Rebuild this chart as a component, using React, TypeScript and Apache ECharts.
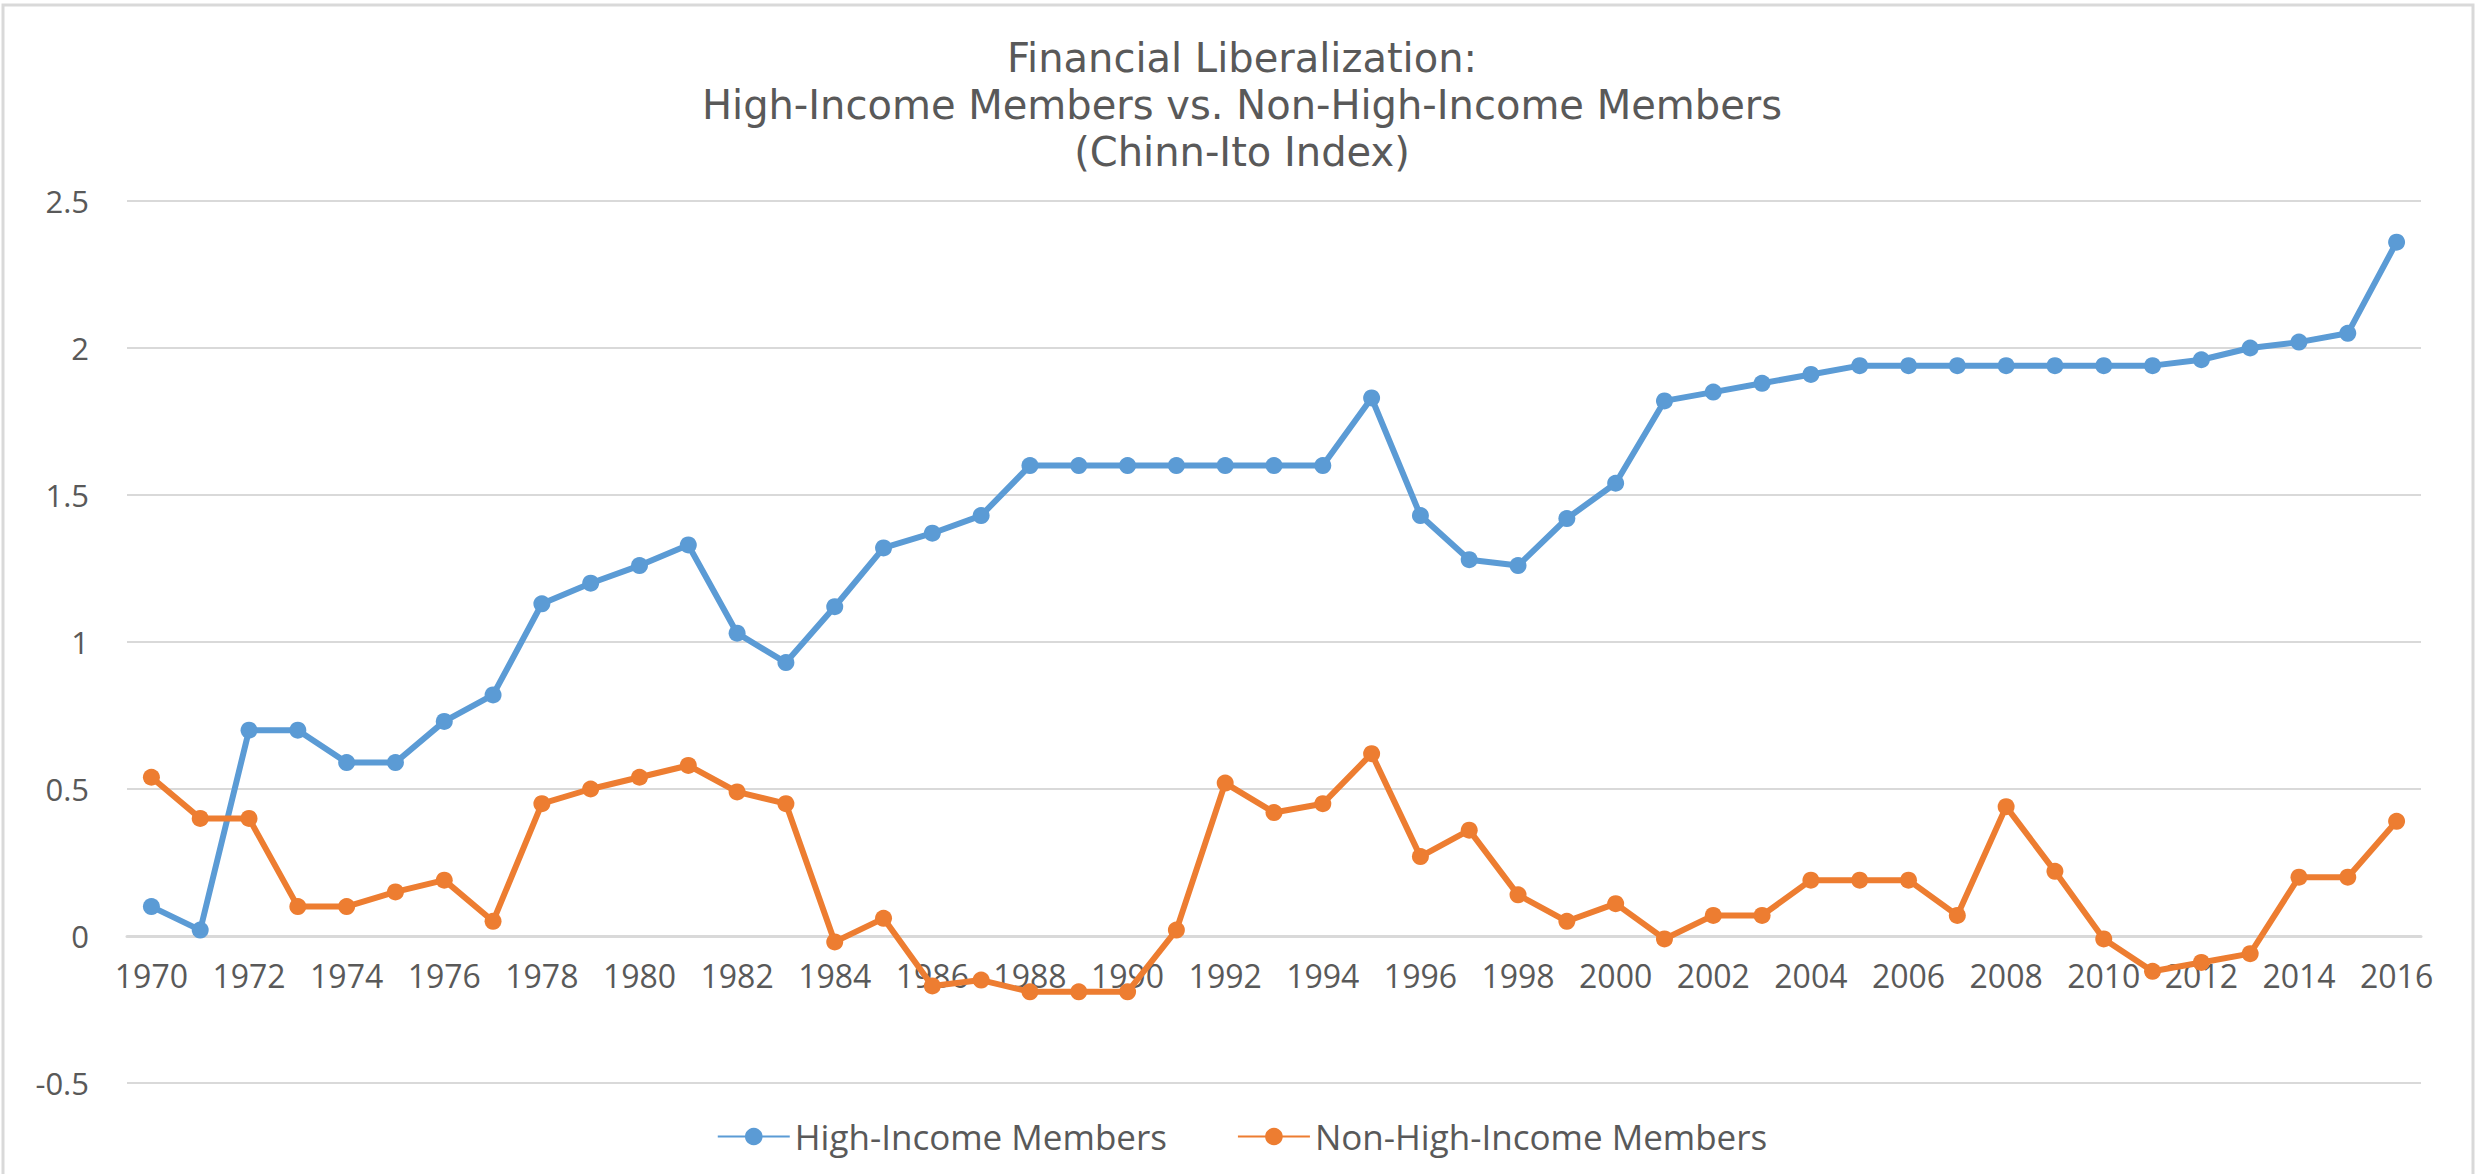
import React, { useEffect, useRef } from "react";
import * as echarts from "echarts";

const years = [
  "1970", "1971", "1972", "1973", "1974", "1975", "1976", "1977", "1978", "1979",
  "1980", "1981", "1982", "1983", "1984", "1985", "1986", "1987", "1988", "1989",
  "1990", "1991", "1992", "1993", "1994", "1995", "1996", "1997", "1998", "1999",
  "2000", "2001", "2002", "2003", "2004", "2005", "2006", "2007", "2008", "2009",
  "2010", "2011", "2012", "2013", "2014", "2015", "2016",
];

const highIncome = [
  0.10, 0.02, 0.70, 0.70, 0.59, 0.59, 0.73, 0.82, 1.13, 1.20,
  1.26, 1.33, 1.03, 0.93, 1.12, 1.32, 1.37, 1.43, 1.60, 1.60,
  1.60, 1.60, 1.60, 1.60, 1.60, 1.83, 1.43, 1.28, 1.26, 1.42,
  1.54, 1.82, 1.85, 1.88, 1.91, 1.94, 1.94, 1.94, 1.94, 1.94,
  1.94, 1.94, 1.96, 2.00, 2.02, 2.05, 2.36,
];

const nonHighIncome = [
  0.54, 0.40, 0.40, 0.10, 0.10, 0.15, 0.19, 0.05, 0.45, 0.50,
  0.54, 0.58, 0.49, 0.45, -0.02, 0.06, -0.17, -0.15, -0.19, -0.19,
  -0.19, 0.02, 0.52, 0.42, 0.45, 0.62, 0.27, 0.36, 0.14, 0.05,
  0.11, -0.01, 0.07, 0.07, 0.19, 0.19, 0.19, 0.07, 0.44, 0.22,
  -0.01, -0.12, -0.09, -0.06, 0.20, 0.20, 0.39,
];

const seriesNames = ["High-Income Members", "Non-High-Income Members"];
const yMin = -0.5;
const yMax = 2.5;
const yStep = 0.5;

const titleLines = [
  "Financial Liberalization:",
  "High-Income Members vs. Non-High-Income Members",
  "(Chinn-Ito Index)",
];

const FONT = "'Open Sans', 'Noto Sans', sans-serif";
const TITLE_FONT = "'DejaVu Sans', 'Open Sans', sans-serif";
const TEXT = "#595959";
const GRID = "#D9D9D9";
const BLUE = "#5B9BD5";
const ORANGE = "#ED7D31";

export default function App() {
  const ref = useRef<HTMLDivElement>(null);

  useEffect(() => {
    if (!ref.current) return;
    const chart = echarts.init(ref.current, null, { renderer: "svg" });
    chart.setOption({
      animation: false,
      backgroundColor: "#ffffff",
      graphic: [
        {
          type: "rect",
          shape: { x: 3, y: 5, width: 2470, height: 1200 },
          style: { fill: "none", stroke: GRID, lineWidth: 3 },
          silent: true,
          z: -1,
        },
      ],
      title: {
        text: titleLines.join("\n"),
        left: "center",
        top: 29,
        textStyle: {
          fontFamily: TITLE_FONT,
          fontSize: 40,
          fontWeight: "normal",
          color: TEXT,
          lineHeight: 47,
        },
      },
      legend: {
        data: seriesNames,
        left: "center",
        top: 1114,
        itemWidth: 72,
        itemHeight: 22,
        itemGap: 70,
        textStyle: { fontFamily: FONT, fontSize: 35, color: TEXT },
      },
      grid: { left: 127, right: 63, top: 201, bottom: 91, containLabel: false },
      xAxis: {
        type: "category",
        data: years,
        boundaryGap: true,
        offset: -147,
        axisLine: { show: true, onZero: false, lineStyle: { color: GRID, width: 3 } },
        axisTick: { show: false },
        axisLabel: {
          interval: 1,
          margin: 23,
          fontFamily: FONT,
          fontSize: 32,
          color: TEXT,
        },
        splitLine: { show: false },
      },
      yAxis: {
        type: "value",
        min: yMin,
        max: yMax,
        interval: yStep,
        axisLine: { show: false },
        axisTick: { show: false },
        axisLabel: {
          margin: 38,
          fontFamily: FONT,
          fontSize: 31,
          color: TEXT,
        },
        splitLine: { show: true, lineStyle: { color: GRID, width: 2 } },
      },
      series: [
        {
          name: seriesNames[0],
          type: "line",
          data: highIncome,
          symbol: "circle",
          symbolSize: 17,
          showAllSymbol: true,
          color: BLUE,
          lineStyle: { width: 6, color: BLUE },
          itemStyle: { color: BLUE },
        },
        {
          name: seriesNames[1],
          type: "line",
          data: nonHighIncome,
          symbol: "circle",
          symbolSize: 17,
          showAllSymbol: true,
          color: ORANGE,
          lineStyle: { width: 6, color: ORANGE },
          itemStyle: { color: ORANGE },
        },
      ],
    });
    return () => chart.dispose();
  }, []);

  return (
    <div
      ref={ref}
      style={{ position: "absolute", left: 0, top: 0, width: 2484, height: 1174 }}
    />
  );
}
